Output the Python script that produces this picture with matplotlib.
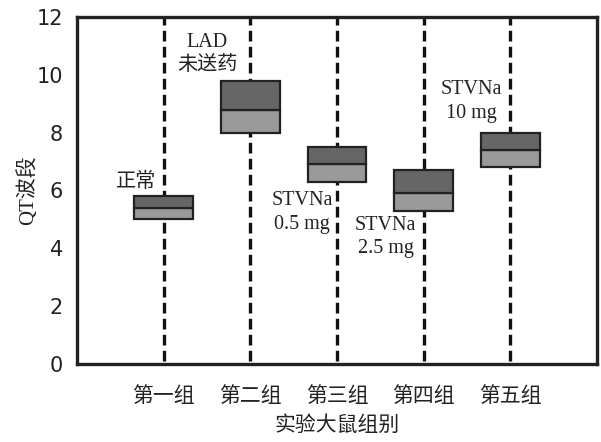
import matplotlib
matplotlib.use("Agg")
import matplotlib.pyplot as plt
from matplotlib.patches import Rectangle

# 各组数据：下四分位、中位数、上四分位
groups = ["第一组", "第二组", "第三组", "第四组", "第五组"]
q_low = [5.0, 8.0, 6.3, 5.3, 6.8]
q_mid = [5.4, 8.8, 6.9, 5.9, 7.4]
q_high = [5.8, 9.8, 7.5, 6.7, 8.0]

# 标注文字
notes = ["正常", "LAD\n未送药", "STVNa\n0.5 mg", "STVNa\n2.5 mg", "STVNa\n10 mg"]
note_pos = [(0.68, 6.27), (1.5, 10.73), (2.6, 5.24), (3.56, 4.38), (4.55, 9.08)]

cjk = ["Noto Sans CJK SC", "DejaVu Sans"]
serif_cjk = ["Liberation Serif", "Noto Sans CJK SC"]

fig = plt.figure(figsize=(6.01, 4.42), dpi=100)
ax = fig.add_axes([77 / 601, 1 - 364 / 442, 520 / 601, 347 / 442])

width = 0.68
for i in range(len(groups)):
    x = i + 1
    # 背景虚线
    ax.plot([x, x], [0.1, 12], color="#111111", lw=2.4, ls=(0, (3.2, 1.6)), zorder=1)
    # 下半部分（浅灰）与上半部分（深灰）
    ax.add_patch(Rectangle((x - width / 2, q_low[i]), width, q_mid[i] - q_low[i],
                           facecolor="#9a9a9a", edgecolor="#222222", lw=1.6, zorder=3))
    ax.add_patch(Rectangle((x - width / 2, q_mid[i]), width, q_high[i] - q_mid[i],
                           facecolor="#666666", edgecolor="#222222", lw=1.6, zorder=3))

for i in range(len(notes)):
    ax.text(note_pos[i][0], note_pos[i][1], notes[i], ha="center", va="center",
            fontsize=14.5, family=serif_cjk, color="#222222", linespacing=1.3, zorder=4)

ax.set_xlim(0, 6)
ax.set_ylim(0, 12)
ax.set_xticks(range(1, len(groups) + 1))
ax.set_xticklabels(groups, family=cjk, fontsize=15, color="#222222")
ax.set_yticks(range(0, 13, 2))
ax.set_yticklabels([str(v) for v in range(0, 13, 2)], fontsize=15, color="#222222")
ax.tick_params(length=0, pad=15)
ax.tick_params(axis="y", pad=10)

for s in ax.spines.values():
    s.set_linewidth(2.4)
    s.set_color("#222222")

ax.set_ylabel("QT波段", family=serif_cjk, fontsize=15, labelpad=-1, color="#222222")
ax.set_xlabel("实验大鼠组别", family=cjk, fontsize=15, labelpad=5, color="#222222")

fig.savefig("out.png", dpi=100)
